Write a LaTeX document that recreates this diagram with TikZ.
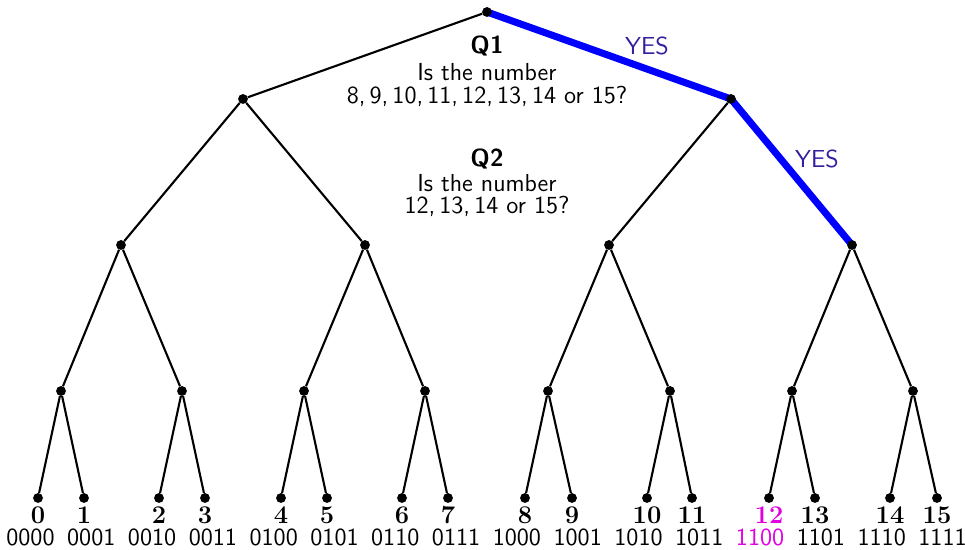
\documentclass[tikz,border=0pt]{standalone}
\definecolor{yescol}{RGB}{50,30,160}
\definecolor{pickcol}{RGB}{225,0,225}
\newcommand\qfont{\sffamily\fontsize{14}{13}\selectfont}
\newcommand\numfont{\rmfamily\bfseries\fontsize{14.5}{13}\selectfont}
\tikzset{
  dot/.style={circle,fill=black,inner sep=0pt,minimum size=0.19cm},
  edge/.style={line width=1.2pt},
  yesedge/.style={line width=4pt,draw=blue},
  qtxt/.style={font=\qfont,anchor=base,inner sep=0pt},
  numtxt/.style={font=\numfont,anchor=base,inner sep=0pt},
  bintxt/.style={font=\qfont,anchor=base,inner sep=0pt},
  yestxt/.style={font=\qfont,anchor=base,inner sep=0pt,text=yescol},
}
\begin{document}
\begin{tikzpicture}[x=0.02cm,y=-0.02cm]
\useasboundingbox (0,0) rectangle (965,550);
% tree nodes
\node[dot] (r) at (487,12) {};
\node[dot] (a1) at (243,99) {};
\node[dot] (a2) at (731,99) {};
\foreach \i/\x in {1/121,2/365,3/609,4/852}
  \node[dot] (b\i) at (\x,245) {};
\foreach \i/\x in {1/61,2/182,3/304,4/425,5/548,6/670,7/792,8/913}
  \node[dot] (c\i) at (\x,391) {};
\foreach \i/\x in {0/38,1/84,2/159,3/205,4/281,5/327,6/402,7/448,8/525,9/572,10/647,11/692,12/769,13/815,14/890,15/937}
  \node[dot] (l\i) at (\x,498) {};
% edges
\draw[edge] (r) -- (a1);
\draw[yesedge] (r.center) -- (a2.center);
\draw[edge] (a1) -- (b1);
\draw[edge] (a1) -- (b2);
\draw[edge] (a2) -- (b3);
\draw[yesedge] (a2.center) -- (b4.center);
\draw[edge] (b1) -- (c1); \draw[edge] (b1) -- (c2);
\draw[edge] (b2) -- (c3); \draw[edge] (b2) -- (c4);
\draw[edge] (b3) -- (c5); \draw[edge] (b3) -- (c6);
\draw[edge] (b4) -- (c7); \draw[edge] (b4) -- (c8);
\foreach \c/\p/\q in {1/0/1,2/2/3,3/4/5,4/6/7,5/8/9,6/10/11,7/12/13,8/14/15}{
  \draw[edge] (c\c) -- (l\p);
  \draw[edge] (c\c) -- (l\q);
}
% redraw dots on top
\foreach \n in {r,a1,a2,b1,b2,b3,b4,c1,c2,c3,c4,c5,c6,c7,c8}
  \fill (\n) circle (0.095cm);
\foreach \i in {0,...,15}
  \fill (l\i) circle (0.095cm);
% question texts
\node[qtxt] (q1a) at (487,54) {\bfseries Q1};
\node[qtxt] (q1b) at (487,81) {Is the number};
\node[qtxt] (q1c) at (487,104) {8,\thinspace 9,\thinspace 10,\thinspace 11,\thinspace 12,\thinspace 13,\thinspace 14 or 15?};
\node[qtxt] (q2a) at (487,167) {\bfseries Q2};
\node[qtxt] (q2b) at (487,192) {Is the number};
\node[qtxt] (q2c) at (487,214) {12,\thinspace 13,\thinspace 14 or 15?};
\node[yestxt] (y1) at (647,55) {YES};
\node[yestxt] (y2) at (817,168) {YES};
% leaf labels
\foreach \i/\x in {0/38,1/84,2/159,3/205,4/281,5/327,6/402,7/448,8/525,9/572,10/647,11/692,13/815,14/890,15/937}
  \node[numtxt] (n\i) at (\x,524) {\i};
\node[numtxt,text=pickcol] (n12) at (769,524) {12};
\foreach \i/\b in {0/0000,1/0001,2/0010,3/0011,4/0100,5/0101,6/0110,7/0111,8/1000,9/1001,10/1010,11/1011,13/1101,14/1110,15/1111}
  \node[bintxt] (bin\i) at ({30.5+60.8*\i},546) {\b};
\node[bintxt,text=pickcol] (bin12) at ({30.5+60.8*12},546) {1100};
\end{tikzpicture}
\end{document}
